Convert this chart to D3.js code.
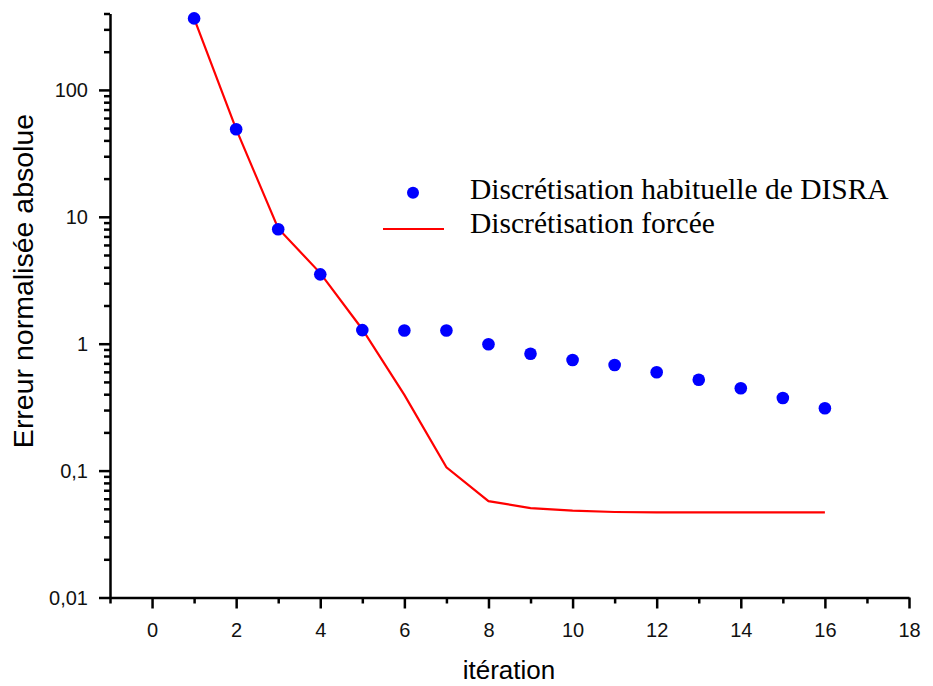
<!DOCTYPE html>
<html>
<head>
<meta charset="utf-8">
<script src="https://cdn.jsdelivr.net/npm/d3@7"></script>
<style>
  body { margin: 0; background: #fff; }
  .axis path, .axis line { stroke: #000; stroke-width: 2.5px; }
  .axis text { font-family: "Liberation Sans", Arial, sans-serif; font-size: 20px; fill: #111; }
  .title { font-family: "Liberation Sans", Arial, sans-serif; fill: #000; }
  .legend text { font-family: "Liberation Serif", "Times New Roman", serif; font-size: 29.5px; fill: #000; }
</style>
</head>
<body>
<div class="chart"></div>
<script>
// data
var iterations = [1, 2, 3, 4, 5, 6, 7, 8, 9, 10, 11, 12, 13, 14, 15, 16],
    habituelle = [366, 49, 7.97, 3.52, 1.28, 1.27, 1.27, 0.99, 0.834, 0.744, 0.68, 0.595, 0.52, 0.445, 0.373, 0.31],
    forcee = [366, 49, 8.1, 3.6, 1.3, 0.395, 0.106, 0.0575, 0.0507, 0.0483, 0.0472, 0.0469, 0.0469, 0.0469, 0.0469, 0.0469],
    seriesNames = ["Discrétisation habituelle de DISRA", "Discrétisation forcée"],
    xMajor = [0, 2, 4, 6, 8, 10, 12, 14, 16, 18],
    xMinor = [-1, 1, 3, 5, 7, 9, 11, 13, 15, 17],
    yMajor = [0.01, 0.1, 1, 10, 100],
    yMinorFactors = [2, 3, 4, 5, 6, 7, 8, 9];

var outerWidth = 933,
    outerHeight = 686,
    margin = {left: 110, top: 13.5, right: 24, bottom: 88.5},
    width = outerWidth - margin.left - margin.right,
    height = outerHeight - margin.top - margin.bottom;

var xScale = d3.scaleLinear().domain([-1, 18]).range([0, width]),
    yScale = d3.scaleLog().domain([0.01, 400]).range([height, 0]),
    frLocale = d3.formatLocale({decimal: ",", thousands: " ", grouping: [3], currency: ["", " €"]}),
    yFormat = frLocale.format("~g");

var yMinor = [];
yMajor.forEach(function(m) {
  yMinorFactors.forEach(function(f) {
    var v = +(m * f).toPrecision(3);
    if (v <= 400) yMinor.push(v);
  });
});

var svg = d3.select(".chart").append("svg")
    .attr("width", outerWidth)
    .attr("height", outerHeight)
  .append("g")
    .attr("transform", "translate(" + margin.left + "," + margin.top + ")");

// minor ticks first, then major axes on top
svg.append("g")
    .attr("class", "axis")
    .attr("transform", "translate(0," + height + ")")
    .call(d3.axisBottom(xScale).tickValues(xMinor).tickSize(6).tickSizeOuter(0).tickFormat(""))
    .select(".domain").remove();

svg.append("g")
    .attr("class", "axis")
    .call(d3.axisLeft(yScale).tickValues(yMinor).tickSize(6).tickSizeOuter(0).tickFormat(""))
    .select(".domain").remove();

var xAxisG = svg.append("g")
    .attr("class", "axis")
    .attr("transform", "translate(0," + height + ")")
    .call(d3.axisBottom(xScale).tickValues(xMajor).tickSize(11).tickSizeOuter(0).tickFormat(d3.format("d")));
xAxisG.selectAll("text").attr("y", 25).attr("dy", "0.71em");

var yAxisG = svg.append("g")
    .attr("class", "axis")
    .call(d3.axisLeft(yScale).tickValues(yMajor).tickSize(11).tickSizeOuter(0).tickFormat(yFormat));
yAxisG.selectAll("text").attr("x", -22).attr("dy", "0.35em");

// axis titles
svg.append("text")
    .attr("class", "title")
    .attr("x", 399)
    .attr("y", height + 81.5)
    .attr("text-anchor", "middle")
    .style("font-size", "26px")
    .text("itération");

svg.append("text")
    .attr("class", "title")
    .attr("transform", "translate(-77," + (281 - margin.top) + ") rotate(-90)")
    .attr("text-anchor", "middle")
    .style("font-size", "28.5px")
    .text("Erreur normalisée absolue");

// red line
var line = d3.line()
    .x(function(d) { return xScale(d[0]); })
    .y(function(d) { return yScale(d[1]); });

svg.append("path")
    .datum(d3.zip(iterations, forcee))
    .attr("fill", "none")
    .attr("stroke", "#ff0000")
    .attr("stroke-width", 2.2)
    .attr("d", line);

// blue dots
svg.selectAll(".dot")
    .data(d3.zip(iterations, habituelle))
  .enter().append("circle")
    .attr("class", "dot")
    .attr("cx", function(d) { return xScale(d[0]); })
    .attr("cy", function(d) { return yScale(d[1]); })
    .attr("r", 6.3)
    .style("fill", "#0000ff");

// legend
var legend = svg.append("g")
    .attr("class", "legend")
    .attr("transform", "translate(" + (383 - margin.left) + "," + (199.3 - margin.top) + ")");

legend.append("circle")
    .attr("cx", 30)
    .attr("cy", -6.5)
    .attr("r", 6)
    .style("fill", "#0000ff");

legend.append("line")
    .attr("x1", 0)
    .attr("x2", 61)
    .attr("y1", 29.7)
    .attr("y2", 29.7)
    .style("stroke", "#ff0000")
    .style("stroke-width", 2.2);

legend.selectAll("text")
    .data(seriesNames)
  .enter().append("text")
    .attr("x", 87)
    .attr("y", function(d, i) { return i * 34; })
    .text(function(d) { return d; });
</script>
</body>
</html>
